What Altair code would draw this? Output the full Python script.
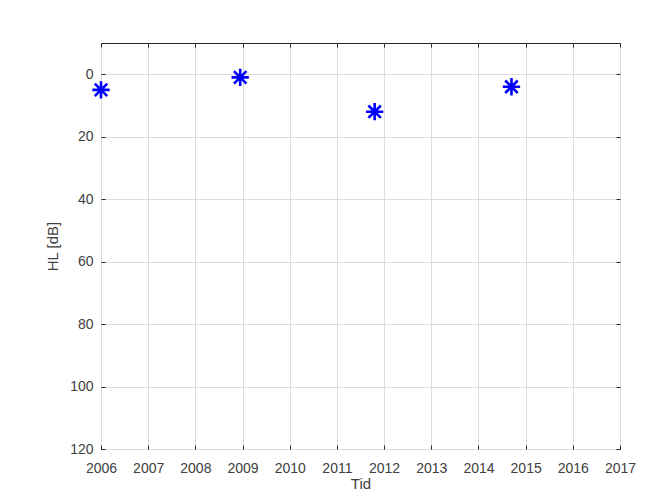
import altair as alt
import pandas as pd

# Data
years = [2006.0, 2008.95, 2011.8, 2014.7]
hl_db = [5, 1, 12, 4]

x_ticks = list(range(2006, 2018))
y_ticks = [0, 20, 40, 60, 80, 100, 120]

df = pd.DataFrame({"Tid": years, "HL": hl_db})

FONT = "Liberation Sans"
TXT = "#404040"
AX = "#262626"
GRID = "#dcdcdc"
TICK = 4

x_scale = alt.Scale(domain=[2006, 2017], nice=False, zero=False)
y_scale = alt.Scale(domain=[-10, 120], nice=False, zero=False, reverse=True)

star = "M0,-1L0,1M-1,0L1,0M-0.72,-0.72L0.72,0.72M-0.72,0.72L0.72,-0.72"

base = alt.Chart(df)

main = base.mark_point(
    shape=star, filled=False, stroke="#0000ff", strokeWidth=2.6, size=300,
    opacity=1, clip=False,
).encode(
    x=alt.X("Tid:Q", scale=x_scale,
            axis=alt.Axis(orient="bottom", values=x_ticks, format="d", title="Tid",
                          grid=True, gridColor=GRID, gridWidth=1, ticks=False,
                          domain=False, labelPadding=12, titlePadding=1,
                          labelFont=FONT, labelFontSize=14, labelColor=TXT,
                          titleFont=FONT, titleFontSize=15, titleColor=TXT,
                          titleFontWeight="normal", labelFlush=False)),
    y=alt.Y("HL:Q", scale=y_scale,
            axis=alt.Axis(orient="left", values=y_ticks, title="HL [dB]",
                          grid=True, gridColor=GRID, gridWidth=1, ticks=False,
                          domain=False, labelPadding=8, titlePadding=9,
                          labelFont=FONT, labelFontSize=14, labelColor=TXT,
                          titleFont=FONT, titleFontSize=15, titleColor=TXT,
                          titleFontWeight="normal", labelFlush=False)),
)

def tick_axis(orient, values):
    return alt.Axis(orient=orient, values=values, title=None, labels=False,
                    domain=False, grid=False, ticks=True, tickSize=TICK,
                    tickColor=AX, tickWidth=1, offset=-TICK)

inner_a = base.mark_point(opacity=0, size=1).encode(
    x=alt.X("Tid:Q", scale=x_scale, axis=tick_axis("top", x_ticks)),
    y=alt.Y("HL:Q", scale=y_scale, axis=tick_axis("right", y_ticks)),
)
inner_b = base.mark_point(opacity=0, size=1).encode(
    x=alt.X("Tid:Q", scale=x_scale, axis=tick_axis("bottom", x_ticks)),
    y=alt.Y("HL:Q", scale=y_scale, axis=tick_axis("left", y_ticks)),
)

chart = alt.layer(main, inner_a, inner_b).properties(
    width=519, height=406,
    autosize=alt.AutoSizeParams(type="none"),
    padding={"left": 93, "top": 35, "right": 40, "bottom": 44},
    background="white",
).configure_view(stroke=AX, strokeWidth=1)

chart.save("out.html", embed_options={"renderer": "svg", "actions": False})
